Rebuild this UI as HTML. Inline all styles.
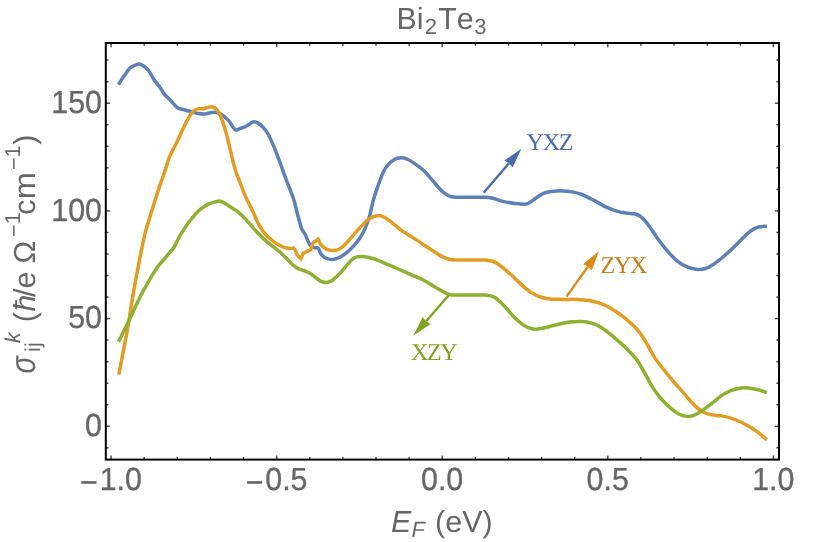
<!DOCTYPE html>
<html><head><meta charset="utf-8"><title>Bi2Te3</title>
<style>
html,body{margin:0;padding:0;background:#fff;}
body{width:822px;height:542px;overflow:hidden;position:relative;font-family:"Liberation Sans",sans-serif;}
svg{position:absolute;left:0;top:0;display:block;will-change:transform;}
text{font-family:"Liberation Sans",sans-serif;fill:#666666;font-kerning:none;text-rendering:geometricPrecision;}
.tk{font-size:30px;}
.sf{font-family:"Liberation Serif",serif;font-size:24px;letter-spacing:-1.3px;}
</style></head><body>
<svg width="822" height="542" viewBox="0 0 822 542">
<rect x="0" y="0" width="822" height="542" fill="#ffffff"/>
<g fill="none" stroke-width="3.5" stroke-linejoin="miter" stroke-linecap="butt">
<path d="M118.5 84.6C119.5 83.1 122.5 78.3 124.4 75.6C126.3 72.9 127.9 70.0 129.7 68.3C131.5 66.5 133.6 65.8 135.3 65.1C137.1 64.4 138.6 63.8 140.2 64.1C141.8 64.4 143.7 66.0 145.1 67.1C146.5 68.2 147.2 68.6 148.7 70.7C150.2 72.8 152.3 77.0 154.1 79.7C155.9 82.4 157.9 84.6 159.7 87.0C161.4 89.4 162.8 92.1 164.6 94.3C166.4 96.5 168.4 98.2 170.6 100.4C172.8 102.6 175.3 106.2 177.5 107.7C179.7 109.2 181.5 109.0 184.0 109.7C186.5 110.4 190.2 111.4 192.6 112.1C195.0 112.8 196.8 113.3 198.7 113.6C200.6 113.9 202.5 114.2 204.3 114.1C206.1 114.0 207.6 113.2 209.6 112.9C211.6 112.6 214.4 112.1 216.4 112.4C218.4 112.7 219.8 113.2 221.8 114.6C223.8 116.0 226.4 118.1 228.6 120.6C230.8 123.1 233.3 128.4 235.2 129.7C237.1 131.0 238.3 129.0 240.1 128.4C241.9 127.8 244.0 127.3 246.2 126.2C248.3 125.1 251.0 122.4 253.0 121.9C255.0 121.4 256.6 122.2 258.3 123.1C260.0 124.0 261.6 125.7 263.2 127.5C264.8 129.3 266.3 130.7 268.1 134.0C269.9 137.3 272.2 142.7 274.2 147.4C276.2 152.2 278.0 157.2 280.0 162.5C282.0 167.8 283.9 173.5 286.1 179.5C288.3 185.5 291.5 192.6 293.4 198.5C295.3 204.4 296.6 211.0 297.7 215.0C298.8 219.0 299.2 220.4 299.9 222.7C300.5 225.0 300.8 227.0 301.6 228.8C302.4 230.7 303.9 231.9 304.9 233.8C305.9 235.8 306.8 238.6 307.7 240.5C308.6 242.4 309.3 244.2 310.4 245.4C311.5 246.6 313.0 247.2 314.3 247.7C315.6 248.2 317.3 247.5 318.2 248.2C319.1 248.9 319.2 250.8 319.9 252.1C320.6 253.4 321.5 254.9 322.6 256.0C323.7 257.1 325.0 257.8 326.5 258.4C328.0 259.0 329.8 259.4 331.5 259.5C333.2 259.6 334.8 259.3 336.5 258.7C338.2 258.1 340.0 257.3 342.0 256.0C344.0 254.7 346.5 252.8 348.6 251.0C350.7 249.2 352.8 247.0 354.6 244.9C356.5 242.8 358.1 240.6 359.7 238.2C361.3 235.8 362.8 233.4 364.2 230.5C365.6 227.6 367.2 223.1 368.1 220.5C369.1 217.9 368.9 218.7 369.9 215.0C370.8 211.3 372.3 203.7 373.8 198.5C375.3 193.3 377.1 188.3 378.7 183.8C380.3 179.3 381.9 174.9 383.5 171.7C385.1 168.5 386.6 166.4 388.4 164.4C390.2 162.4 392.5 160.6 394.5 159.5C396.5 158.4 398.6 157.9 400.6 157.8C402.6 157.7 404.5 158.1 406.7 159.0C408.9 159.9 411.2 161.2 414.0 163.1C416.8 165.0 420.6 167.7 423.7 170.5C426.8 173.3 429.6 177.2 432.3 180.2C435.0 183.2 437.4 186.4 439.6 188.7C441.8 191.0 443.7 192.8 445.7 194.1C447.7 195.4 449.8 196.3 451.7 196.8C453.6 197.3 455.3 197.1 457.0 197.2C458.7 197.3 459.8 197.2 462.0 197.2C464.2 197.2 467.3 197.2 470.0 197.2C472.7 197.2 475.6 197.2 478.0 197.2C480.4 197.2 482.1 197.1 484.4 197.2C486.7 197.3 488.5 197.3 491.7 198.0C494.9 198.7 499.8 200.7 503.8 201.6C507.9 202.5 512.5 203.1 516.0 203.6C519.5 204.1 522.4 204.4 524.6 204.3C526.8 204.2 527.4 203.9 529.4 202.8C531.4 201.7 534.3 199.1 536.7 197.5C539.1 195.9 541.4 194.1 544.0 193.1C546.6 192.1 549.6 191.8 552.6 191.4C555.6 191.0 559.0 190.8 562.3 190.9C565.5 191.0 568.9 191.3 572.1 191.9C575.4 192.5 578.1 193.1 581.8 194.5C585.4 195.9 589.9 198.3 594.0 200.4C598.1 202.5 602.6 205.4 606.2 207.2C609.9 208.9 612.6 209.9 615.9 210.9C619.1 211.9 622.7 212.6 625.7 213.1C628.8 213.6 631.8 213.3 634.2 213.8C636.6 214.3 638.3 214.8 640.3 216.2C642.3 217.6 644.4 219.9 646.4 222.3C648.4 224.7 650.4 227.9 652.4 230.8C654.4 233.7 655.9 236.2 658.5 239.7C661.1 243.2 665.0 248.2 668.2 251.9C671.5 255.6 674.8 259.1 678.0 261.6C681.2 264.2 684.5 265.9 687.7 267.2C690.9 268.5 694.5 269.1 697.4 269.4C700.2 269.6 702.3 269.4 704.8 268.7C707.2 268.0 709.3 267.1 712.1 265.3C714.9 263.5 718.1 261.1 721.8 258.0C725.4 254.9 730.4 250.5 734.0 247.0C737.6 243.5 740.9 239.9 743.7 237.2C746.5 234.5 748.6 232.4 751.0 230.7C753.4 229.0 755.6 227.7 758.3 227.0C760.9 226.3 765.5 226.4 766.9 226.3" stroke="#5E81B5"/>
<path d="M118.8 374.5C120.3 366.8 125.6 339.9 127.7 328.0C129.8 316.1 130.1 312.2 131.7 303.0C133.2 293.8 134.8 284.6 137.0 273.0C139.2 261.4 142.5 244.0 145.1 233.3C147.7 222.6 150.2 216.3 152.4 209.0C154.6 201.7 156.5 195.7 158.5 189.5C160.5 183.3 162.8 177.4 164.6 172.0C166.4 166.6 167.4 162.1 169.4 157.2C171.4 152.3 174.3 147.7 176.7 142.6C179.1 137.5 181.6 131.6 184.0 126.7C186.4 121.8 189.2 116.2 191.4 113.3C193.6 110.3 195.0 109.8 197.0 109.0C199.0 108.2 201.6 109.0 203.5 108.7C205.4 108.4 206.9 107.5 208.4 107.2C209.9 106.9 211.2 106.7 212.5 107.0C213.8 107.3 215.1 107.7 216.4 109.2C217.8 110.8 219.1 112.8 220.6 116.3C222.1 119.8 223.9 124.8 225.5 130.4C227.1 136.0 228.7 143.4 230.3 149.9C231.9 156.4 233.5 163.8 235.2 169.5C236.9 175.2 238.8 179.2 240.6 184.0C242.4 188.8 244.2 193.6 246.2 198.0C248.1 202.4 250.3 205.9 252.3 210.2C254.3 214.5 256.1 219.5 258.3 223.6C260.5 227.7 263.2 231.7 265.7 234.6C268.1 237.5 270.8 239.4 273.0 241.1C275.2 242.8 277.0 243.9 279.0 245.0C281.0 246.1 283.2 247.1 285.0 247.7C286.8 248.3 288.6 248.3 290.0 248.4C291.4 248.5 292.2 248.1 293.3 248.0C294.0 248.8 294.9 249.2 295.5 250.4C296.1 251.6 296.3 253.5 297.2 254.9C298.1 256.3 299.7 257.4 301.0 258.7C301.7 256.9 302.5 255.0 303.2 253.2C304.5 252.6 305.9 252.1 307.1 251.5C308.3 250.9 309.3 250.4 310.4 249.9C311.3 247.5 312.3 245.1 313.2 242.7C314.8 241.5 316.6 240.4 318.2 239.2C318.9 240.9 319.7 242.6 320.4 244.3C321.7 245.4 322.9 246.8 324.3 247.7C325.7 248.6 327.1 249.4 328.7 249.9C330.3 250.4 332.0 250.7 333.7 250.6C335.4 250.5 336.9 250.2 338.7 249.3C340.4 248.4 342.4 247.1 344.2 245.4C346.0 243.8 347.7 241.7 349.7 239.4C351.7 237.1 354.2 234.1 356.4 231.6C358.6 229.1 360.7 226.6 363.0 224.4C365.3 222.2 367.4 219.8 370.0 218.3C372.6 216.8 376.2 215.6 378.7 215.5C381.1 215.4 382.5 216.3 384.7 217.5C386.9 218.7 389.2 220.6 392.1 222.8C395.0 225.0 397.8 227.8 401.8 230.6C405.9 233.4 411.5 236.7 416.4 239.9C421.3 243.1 426.9 246.9 431.0 249.6C435.1 252.3 437.9 254.3 440.8 255.9C443.7 257.5 446.1 258.3 448.1 259.0C450.1 259.7 451.5 259.7 453.0 259.9C454.5 260.1 455.0 260.0 457.0 260.0C459.0 260.0 462.0 260.0 465.0 260.0C468.0 260.0 472.0 260.0 475.0 260.0C478.0 260.0 480.9 260.0 483.0 260.0C485.1 260.0 485.2 259.7 487.5 260.2C489.8 260.7 493.0 260.8 496.5 262.9C500.0 265.0 504.6 269.1 508.7 272.6C512.8 276.1 517.2 280.9 520.9 284.1C524.5 287.4 527.4 290.0 530.6 292.1C533.9 294.2 537.1 295.9 540.4 297.0C543.6 298.1 546.5 298.5 550.1 298.9C553.8 299.3 557.8 299.3 562.3 299.4C566.8 299.5 572.4 299.2 576.9 299.4C581.4 299.6 585.5 300.0 589.1 300.6C592.7 301.2 595.5 302.0 598.5 302.9C601.5 303.8 604.2 304.8 607.0 306.2C609.8 307.6 612.6 309.4 615.5 311.3C618.4 313.2 621.5 315.4 624.1 317.4C626.7 319.4 628.6 321.2 630.9 323.3C633.2 325.4 635.7 327.9 637.7 330.2C639.7 332.5 641.1 334.4 642.8 337.0C644.5 339.6 645.9 342.2 647.9 345.6C649.9 349.0 652.2 353.7 654.7 357.6C657.2 361.5 660.1 365.0 663.2 369.0C666.3 373.0 671.0 378.6 673.5 381.5C676.0 384.4 675.6 383.9 678.0 386.6C680.4 389.3 684.7 394.4 687.7 397.8C690.7 401.2 693.6 404.5 696.2 406.9C698.8 409.3 700.9 410.9 703.5 412.2C706.1 413.5 709.1 414.3 712.1 414.9C715.1 415.5 718.6 415.3 721.8 415.9C725.0 416.5 728.2 417.2 731.5 418.3C734.8 419.4 738.0 420.6 741.3 422.2C744.5 423.8 748.0 425.7 751.0 427.6C754.0 429.5 757.0 431.7 759.6 433.7C762.2 435.7 765.7 438.8 766.9 439.8" stroke="#E19C24"/>
<path d="M118.5 341.8C119.4 340.1 122.1 334.5 123.7 331.3C125.3 328.1 126.4 326.1 128.0 322.8C129.6 319.5 131.2 315.7 133.1 311.7C134.9 307.7 137.5 302.3 139.1 299.0C140.7 295.7 141.4 294.2 142.5 292.1C143.6 290.0 144.4 288.9 145.9 286.3C147.4 283.7 149.4 279.7 151.5 276.3C153.6 272.9 156.1 268.9 158.5 265.7C160.9 262.5 163.2 260.4 165.8 257.2C168.4 254.0 172.1 250.1 174.3 246.7C176.5 243.3 177.4 240.2 179.2 237.0C181.0 233.8 183.1 230.4 185.3 227.2C187.5 223.9 190.2 220.4 192.6 217.5C195.0 214.6 197.3 211.9 199.9 209.7C202.5 207.5 205.8 205.4 208.4 204.1C211.0 202.8 213.7 202.2 215.7 201.7C217.7 201.2 218.8 200.7 220.6 201.2C222.4 201.7 224.7 203.4 226.7 204.6C228.7 205.8 230.8 207.2 232.8 208.5C234.8 209.8 236.7 210.7 238.9 212.6C241.1 214.5 243.4 216.8 246.2 219.9C249.0 223.0 252.7 227.5 255.9 230.9C259.1 234.3 261.6 237.0 265.7 240.6C269.8 244.2 277.0 249.5 280.3 252.3C283.6 255.1 283.9 256.0 285.5 257.6C287.1 259.2 288.5 260.6 290.0 262.0C291.5 263.4 292.9 264.9 294.4 266.1C295.9 267.3 297.2 268.2 298.9 269.0C300.6 269.8 302.8 270.1 304.8 270.9C306.8 271.7 309.0 272.8 310.7 273.8C312.4 274.8 313.6 276.0 315.1 277.1C316.6 278.2 318.3 279.7 319.5 280.5C320.7 281.3 321.4 281.6 322.5 281.9C323.6 282.2 324.6 282.5 325.8 282.5C327.0 282.5 328.5 282.3 329.9 281.7C331.3 281.1 332.6 280.0 334.3 278.6C336.0 277.2 338.2 275.2 340.2 273.1C342.2 271.0 344.4 268.1 346.1 266.1C347.8 264.1 349.1 262.4 350.5 261.0C351.9 259.6 353.3 258.4 354.5 257.7C355.7 257.0 356.3 257.0 357.5 256.8C358.7 256.6 360.2 256.5 361.9 256.6C363.6 256.7 365.8 256.9 367.8 257.3C369.8 257.7 371.7 258.2 373.7 258.8C375.7 259.4 377.7 260.2 379.6 261.0C381.5 261.8 381.7 261.9 385.0 263.3C388.3 264.7 395.0 267.6 399.4 269.5C403.8 271.4 407.4 273.0 411.5 274.8C415.6 276.6 419.6 278.1 423.7 280.2C427.8 282.3 432.4 285.5 435.9 287.5C439.3 289.5 442.0 291.2 444.4 292.4C446.8 293.6 448.6 294.4 450.5 294.8C452.4 295.2 454.1 295.0 456.0 295.0C457.9 295.0 459.7 295.0 462.0 295.0C464.3 295.0 467.3 295.0 470.0 295.0C472.7 295.0 475.5 295.0 478.0 295.0C480.5 295.0 482.3 294.7 485.0 295.0C487.7 295.3 491.0 295.2 494.1 297.0C497.2 298.8 500.6 302.2 503.8 305.5C507.1 308.8 510.4 313.2 513.6 316.5C516.9 319.8 520.0 322.9 523.3 325.0C526.5 327.1 529.9 328.6 533.1 329.1C536.4 329.6 538.8 329.0 542.8 328.2C546.8 327.4 552.9 325.5 557.4 324.5C561.9 323.5 565.5 322.6 569.6 322.1C573.7 321.6 578.1 321.4 581.8 321.6C585.4 321.8 588.2 322.1 591.5 323.1C594.8 324.1 597.6 325.1 601.3 327.4C605.0 329.7 609.4 333.4 613.5 336.8C617.6 340.2 621.9 344.0 625.7 347.8C629.5 351.6 633.5 355.4 636.5 359.4C639.5 363.3 641.4 367.2 643.9 371.5C646.4 375.8 648.6 380.6 651.2 384.9C653.8 389.2 656.5 393.2 659.7 397.1C662.9 401.0 667.4 405.2 670.6 408.1C673.9 411.0 676.4 412.8 679.2 414.2C682.1 415.6 685.1 416.5 687.7 416.6C690.3 416.7 692.6 415.9 695.0 414.9C697.4 413.9 699.4 412.4 702.3 410.5C705.1 408.6 708.9 405.7 712.1 403.2C715.4 400.7 718.6 397.5 721.8 395.4C725.0 393.2 728.2 391.5 731.5 390.3C734.8 389.1 738.4 388.5 741.3 388.1C744.1 387.7 745.8 387.6 748.6 387.9C751.4 388.2 755.2 389.0 758.3 389.8C761.3 390.6 765.5 392.2 766.9 392.7" stroke="#8FB032"/>
</g>
<line x1="483.6" y1="192.8" x2="509.0" y2="163.2" stroke="#4A6CA8" stroke-width="2.40" stroke-linecap="butt"/><path d="M521.4 148.8 L512.5 167.5 L509.0 163.2 L504.3 160.5 Z" fill="#4A6CA8"/>
<line x1="566.5" y1="296.6" x2="588.0" y2="266.5" stroke="#D98C1C" stroke-width="2.40" stroke-linecap="butt"/><path d="M599.0 251.0 L591.8 270.4 L588.0 266.5 L583.0 264.2 Z" fill="#D98C1C"/>
<line x1="448.6" y1="295.5" x2="426.0" y2="321.2" stroke="#7FA322" stroke-width="2.40" stroke-linecap="butt"/><path d="M413.5 335.5 L422.6 316.9 L426.0 321.2 L430.8 324.0 Z" fill="#7FA322"/>
<text class="sf" x="526.6" y="150" style="fill:#4A6CA8">YXZ</text>
<text class="sf" x="600.6" y="273.4" style="fill:#C77C1A">ZYX</text>
<text class="sf" x="410.9" y="359.9" style="fill:#7FA322">XZY</text>
<g stroke="#4d4d4d" stroke-width="1.5"><line x1="111.1" y1="459.6" x2="111.1" y2="455.4"/><line x1="111.1" y1="43.0" x2="111.1" y2="47.2"/><line x1="144.2" y1="459.6" x2="144.2" y2="456.9"/><line x1="144.2" y1="43.0" x2="144.2" y2="45.7"/><line x1="177.3" y1="459.6" x2="177.3" y2="456.9"/><line x1="177.3" y1="43.0" x2="177.3" y2="45.7"/><line x1="210.4" y1="459.6" x2="210.4" y2="456.9"/><line x1="210.4" y1="43.0" x2="210.4" y2="45.7"/><line x1="243.6" y1="459.6" x2="243.6" y2="456.9"/><line x1="243.6" y1="43.0" x2="243.6" y2="45.7"/><line x1="276.7" y1="459.6" x2="276.7" y2="455.4"/><line x1="276.7" y1="43.0" x2="276.7" y2="47.2"/><line x1="309.8" y1="459.6" x2="309.8" y2="456.9"/><line x1="309.8" y1="43.0" x2="309.8" y2="45.7"/><line x1="342.9" y1="459.6" x2="342.9" y2="456.9"/><line x1="342.9" y1="43.0" x2="342.9" y2="45.7"/><line x1="376.0" y1="459.6" x2="376.0" y2="456.9"/><line x1="376.0" y1="43.0" x2="376.0" y2="45.7"/><line x1="409.1" y1="459.6" x2="409.1" y2="456.9"/><line x1="409.1" y1="43.0" x2="409.1" y2="45.7"/><line x1="442.2" y1="459.6" x2="442.2" y2="455.4"/><line x1="442.2" y1="43.0" x2="442.2" y2="47.2"/><line x1="475.4" y1="459.6" x2="475.4" y2="456.9"/><line x1="475.4" y1="43.0" x2="475.4" y2="45.7"/><line x1="508.5" y1="459.6" x2="508.5" y2="456.9"/><line x1="508.5" y1="43.0" x2="508.5" y2="45.7"/><line x1="541.6" y1="459.6" x2="541.6" y2="456.9"/><line x1="541.6" y1="43.0" x2="541.6" y2="45.7"/><line x1="574.7" y1="459.6" x2="574.7" y2="456.9"/><line x1="574.7" y1="43.0" x2="574.7" y2="45.7"/><line x1="607.8" y1="459.6" x2="607.8" y2="455.4"/><line x1="607.8" y1="43.0" x2="607.8" y2="47.2"/><line x1="640.9" y1="459.6" x2="640.9" y2="456.9"/><line x1="640.9" y1="43.0" x2="640.9" y2="45.7"/><line x1="674.1" y1="459.6" x2="674.1" y2="456.9"/><line x1="674.1" y1="43.0" x2="674.1" y2="45.7"/><line x1="707.2" y1="459.6" x2="707.2" y2="456.9"/><line x1="707.2" y1="43.0" x2="707.2" y2="45.7"/><line x1="740.3" y1="459.6" x2="740.3" y2="456.9"/><line x1="740.3" y1="43.0" x2="740.3" y2="45.7"/><line x1="773.4" y1="459.6" x2="773.4" y2="455.4"/><line x1="773.4" y1="43.0" x2="773.4" y2="47.2"/><line x1="105.8" y1="447.8" x2="108.5" y2="447.8"/><line x1="779.0" y1="447.8" x2="776.3" y2="447.8"/><line x1="105.8" y1="426.3" x2="110.0" y2="426.3"/><line x1="779.0" y1="426.3" x2="774.8" y2="426.3"/><line x1="105.8" y1="404.8" x2="108.5" y2="404.8"/><line x1="779.0" y1="404.8" x2="776.3" y2="404.8"/><line x1="105.8" y1="383.2" x2="108.5" y2="383.2"/><line x1="779.0" y1="383.2" x2="776.3" y2="383.2"/><line x1="105.8" y1="361.7" x2="108.5" y2="361.7"/><line x1="779.0" y1="361.7" x2="776.3" y2="361.7"/><line x1="105.8" y1="340.1" x2="108.5" y2="340.1"/><line x1="779.0" y1="340.1" x2="776.3" y2="340.1"/><line x1="105.8" y1="318.6" x2="110.0" y2="318.6"/><line x1="779.0" y1="318.6" x2="774.8" y2="318.6"/><line x1="105.8" y1="297.1" x2="108.5" y2="297.1"/><line x1="779.0" y1="297.1" x2="776.3" y2="297.1"/><line x1="105.8" y1="275.5" x2="108.5" y2="275.5"/><line x1="779.0" y1="275.5" x2="776.3" y2="275.5"/><line x1="105.8" y1="254.0" x2="108.5" y2="254.0"/><line x1="779.0" y1="254.0" x2="776.3" y2="254.0"/><line x1="105.8" y1="232.4" x2="108.5" y2="232.4"/><line x1="779.0" y1="232.4" x2="776.3" y2="232.4"/><line x1="105.8" y1="210.9" x2="110.0" y2="210.9"/><line x1="779.0" y1="210.9" x2="774.8" y2="210.9"/><line x1="105.8" y1="189.4" x2="108.5" y2="189.4"/><line x1="779.0" y1="189.4" x2="776.3" y2="189.4"/><line x1="105.8" y1="167.8" x2="108.5" y2="167.8"/><line x1="779.0" y1="167.8" x2="776.3" y2="167.8"/><line x1="105.8" y1="146.3" x2="108.5" y2="146.3"/><line x1="779.0" y1="146.3" x2="776.3" y2="146.3"/><line x1="105.8" y1="124.7" x2="108.5" y2="124.7"/><line x1="779.0" y1="124.7" x2="776.3" y2="124.7"/><line x1="105.8" y1="103.2" x2="110.0" y2="103.2"/><line x1="779.0" y1="103.2" x2="774.8" y2="103.2"/><line x1="105.8" y1="81.7" x2="108.5" y2="81.7"/><line x1="779.0" y1="81.7" x2="776.3" y2="81.7"/><line x1="105.8" y1="60.1" x2="108.5" y2="60.1"/><line x1="779.0" y1="60.1" x2="776.3" y2="60.1"/></g>
<rect x="105.8" y="43.0" width="673.2" height="416.6" fill="none" stroke="#000" stroke-width="2.0"/>
<text x="396.60" y="28.80" font-size="30.4">Bi</text>
<text x="424.68" y="34.40" font-size="22">2</text>
<text x="438.18" y="28.80" font-size="30.4">Te</text>
<text x="474.23" y="34.40" font-size="22">3</text>
<text x="391.00" y="531.60" font-size="30.4" font-style="italic">E</text>
<text x="411.55" y="537.30" font-size="22" font-style="italic">F</text>
<text x="435.12" y="531.60" font-size="30.4">(eV)</text>
<text transform="translate(34.60,372.40) rotate(-90) scale(1,1.25)" x="-1.00" y="0" font-size="28.5" font-style="italic">σ</text>
<text transform="translate(39.90,350.40) rotate(-90)" x="-1.50" y="0" font-size="21.5">ij</text>
<text transform="translate(19.90,342.60) rotate(-90)" x="-0.38" y="0" font-size="21.5" font-style="italic">k</text>
<text transform="translate(34.60,320.40) rotate(-90)" x="-1.88" y="0" font-size="30.4">(</text>
<text transform="translate(34.60,311.00) rotate(-90)" x="-0.50" y="0" font-size="30.4" font-style="italic">ħ</text>
<text transform="translate(34.60,296.90) rotate(-90)" x="-0.00" y="0" font-size="30.4">/e</text>
<text transform="translate(34.60,262.20) rotate(-90)" x="-1.25" y="0" font-size="30.4">Ω</text>
<text transform="translate(19.90,235.90) rotate(-90)" x="-1.00" y="0" font-size="21.5"><tspan dy="1.2">−</tspan><tspan dy="-1.2">1</tspan></text>
<text transform="translate(34.60,213.60) rotate(-90)" x="-1.25" y="0" font-size="30.4">c</text>
<text transform="translate(34.60,197.20) rotate(-90) scale(1.07,1)" x="-2.00" y="0" font-size="30.4">m</text>
<text transform="translate(19.90,169.00) rotate(-90)" x="-1.00" y="0" font-size="21.5"><tspan dy="1.2">−</tspan><tspan dy="-1.2">1</tspan></text>
<text transform="translate(34.60,144.40) rotate(-90)" x="-0.25" y="0" font-size="30.4">)</text>
<g font-size="30.4" text-anchor="end" stroke="#666" stroke-width="0.3"><text transform="translate(102.0,112.80) scale(1,1.05)">150</text><text transform="translate(102.0,220.50) scale(1,1.05)">100</text><text transform="translate(102.0,328.20) scale(1,1.05)">50</text><text transform="translate(102.0,435.90) scale(1,1.05)">0</text></g>
<g font-size="30.4" text-anchor="middle" stroke="#666" stroke-width="0.3"><text transform="translate(111.00,490.3) scale(1,1.05)"><tspan dy="2.7">−</tspan><tspan dx="1.8" dy="-2.7">1.0</tspan></text><text transform="translate(276.57,490.3) scale(1,1.05)"><tspan dy="2.7">−</tspan><tspan dx="1.8" dy="-2.7">0.5</tspan></text><text transform="translate(442.15,490.3) scale(1,1.05)">0.0</text><text transform="translate(607.73,490.3) scale(1,1.05)">0.5</text><text transform="translate(773.30,490.3) scale(1,1.05)">1.0</text></g>
</svg>
</body></html>
